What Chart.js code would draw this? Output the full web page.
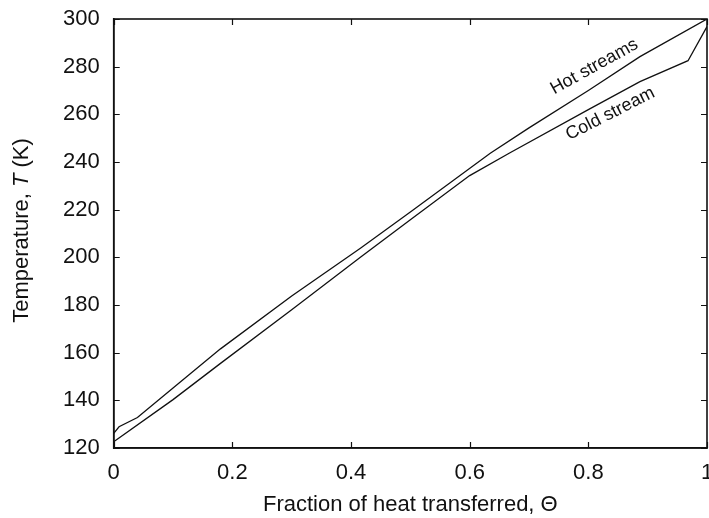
<!DOCTYPE html>
<html>
<head>
<meta charset="utf-8">
<title>Temperature profiles</title>
<script src="https://cdn.jsdelivr.net/npm/chart.js@4.4.0/dist/chart.umd.min.js"></script>
<style>
  html, body { margin: 0; padding: 0; background: #fff; overflow: hidden; }
  #wrap { width: 709px; height: 518px; position: relative; }
</style>
</head>
<body>
<div id="wrap"><canvas id="c" width="709" height="518"></canvas></div>
<script>
// Hot composite stream: fraction of heat transferred vs temperature (K)
const hotTheta = [0, 0.009, 0.04, 0.1, 0.18, 0.3, 0.4158, 0.5, 0.6347, 0.7, 0.8, 0.887, 1];
const hotT     = [126.1, 128.9, 132.8, 145.2, 161.6, 183.8, 203.8, 219, 243.7, 254.3, 270, 284.2, 300];

// Cold stream
const coldTheta = [0, 0.1, 0.18, 0.3, 0.4158, 0.5, 0.6, 0.668, 0.8, 0.887, 0.968, 1];
const coldT     = [122.6, 140.3, 155.5, 178, 200, 215.8, 234.3, 243.9, 262, 273.7, 282.5, 296.8];

// Axis ticks
const xTicks = [0, 0.2, 0.4, 0.6, 0.8, 1];
const yTicks = [120, 140, 160, 180, 200, 220, 240, 260, 280, 300];

// In-plot curve labels (data coordinates, rotation in degrees)
const curveLabels = [
  { text: 'Hot streams', x: 0.81,  y: 280,   angle: -29 },
  { text: 'Cold stream', x: 0.837, y: 260.2, angle: -27 }
];

const FONT = "'Liberation Sans', Arial, Helvetica, sans-serif";
const INK = '#111';

const toPoints = (xs, ys) => xs.map((v, i) => ({ x: v, y: ys[i] }));

const framePlugin = {
  id: 'frame',
  afterDraw(chart) {
    const { ctx, chartArea: a, scales: { x, y } } = chart;
    ctx.save();
    // inward ticks on all four sides
    ctx.strokeStyle = INK;
    ctx.lineWidth = 1.2;
    const len = 6;
    ctx.beginPath();
    x.ticks.forEach(t => {
      const px = Math.round(x.getPixelForValue(t.value)) + 0.5;
      ctx.moveTo(px, a.bottom); ctx.lineTo(px, a.bottom - len);
      ctx.moveTo(px, a.top);    ctx.lineTo(px, a.top + len);
    });
    y.ticks.forEach(t => {
      const py = Math.round(y.getPixelForValue(t.value)) + 0.5;
      ctx.moveTo(a.left, py);  ctx.lineTo(a.left + len, py);
      ctx.moveTo(a.right, py); ctx.lineTo(a.right - len, py);
    });
    ctx.stroke();
    // box
    ctx.lineWidth = 1.6;
    ctx.strokeRect(a.left, a.top, a.right - a.left, a.bottom - a.top);

    // curve labels
    ctx.fillStyle = INK;
    ctx.font = `18px ${FONT}`;
    ctx.textAlign = 'center';
    ctx.textBaseline = 'middle';
    curveLabels.forEach(l => {
      ctx.save();
      ctx.translate(x.getPixelForValue(l.x), y.getPixelForValue(l.y));
      ctx.rotate(l.angle * Math.PI / 180);
      ctx.fillText(l.text, 0, 0);
      ctx.restore();
    });

    // y-axis title with italic symbol
    const parts = [
      { s: 'Temperature, ', f: `22px ${FONT}` },
      { s: 'T',             f: `italic 22px ${FONT}` },
      { s: ' (K)',          f: `22px ${FONT}` }
    ];
    let total = 0;
    parts.forEach(p => { ctx.font = p.f; p.w = ctx.measureText(p.s).width; total += p.w; });
    ctx.translate(22, (a.top + a.bottom) / 2 - 3);
    ctx.rotate(-Math.PI / 2);
    ctx.textAlign = 'left';
    let cx = -total / 2;
    parts.forEach(p => { ctx.font = p.f; ctx.fillText(p.s, cx, 0); cx += p.w; });
    ctx.restore();
  }
};

new Chart(document.getElementById('c'), {
  type: 'scatter',
  data: {
    datasets: [
      {
        label: 'Hot streams',
        data: toPoints(hotTheta, hotT),
        showLine: true, borderColor: INK, borderWidth: 1.3,
        pointRadius: 0, tension: 0, fill: false
      },
      {
        label: 'Cold stream',
        data: toPoints(coldTheta, coldT),
        showLine: true, borderColor: INK, borderWidth: 1.3,
        pointRadius: 0, tension: 0, fill: false
      }
    ]
  },
  options: {
    responsive: false,
    animation: false,
    events: [],
    layout: { padding: { left: 49, top: 19, right: 0, bottom: 0 } },
    plugins: { legend: { display: false }, tooltip: { enabled: false } },
    scales: {
      x: {
        type: 'linear', min: 0, max: 1,
        afterBuildTicks: s => { s.ticks = xTicks.map(v => ({ value: v })); },
        afterFit: s => { s.paddingRight = 2; s.paddingLeft = 0; s.height = 70; },
        grid: { display: false, drawTicks: false },
        border: { display: true, color: INK, width: 1.6 },
        ticks: {
          padding: 12, color: INK, font: { family: FONT, size: 22 },
          maxRotation: 0, autoSkip: false,
          callback: v => String(v)
        },
        title: {
          display: true, text: 'Fraction of heat transferred, Θ', color: INK,
          font: { family: FONT, size: 22 }, padding: { top: 4, bottom: 0 }
        }
      },
      y: {
        type: 'linear', min: 120, max: 300,
        afterBuildTicks: s => { s.ticks = yTicks.map(v => ({ value: v })); },
        afterFit: s => { s.paddingTop = 0; s.paddingBottom = 0; },
        grid: { display: false, drawTicks: false },
        border: { display: true, color: INK, width: 1.6 },
        ticks: {
          padding: 14, color: INK, font: { family: FONT, size: 22 },
          autoSkip: false, callback: v => String(v)
        },
        title: { display: false }
      }
    }
  },
  plugins: [framePlugin]
});
</script>
</body>
</html>
